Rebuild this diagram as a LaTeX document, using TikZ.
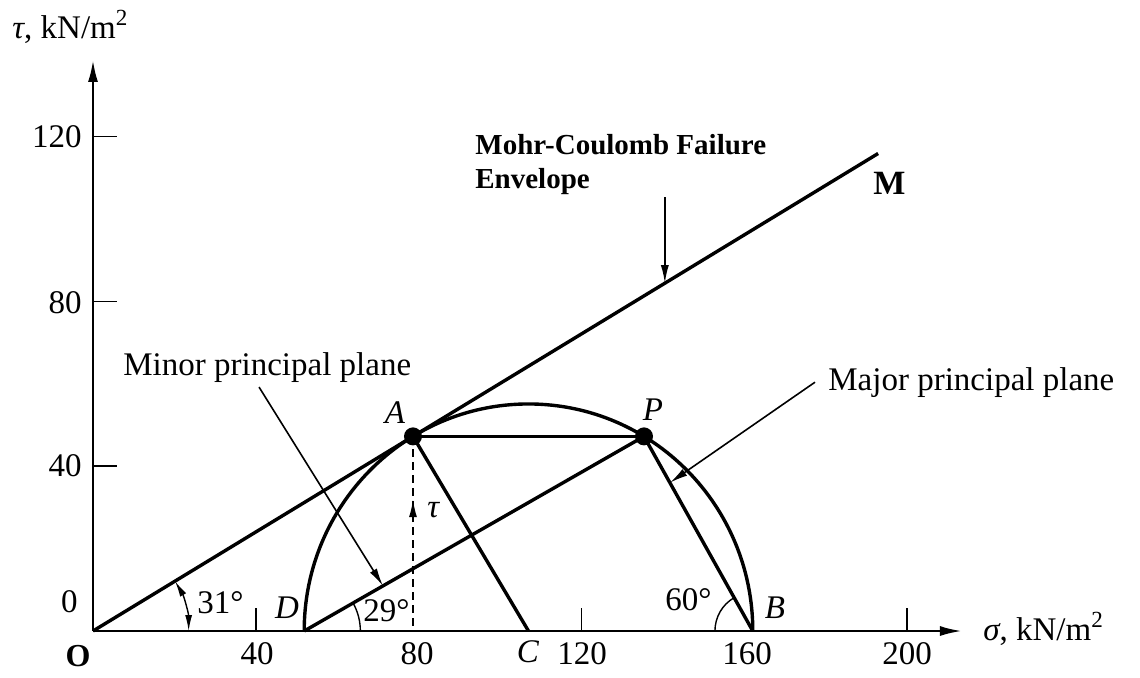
\documentclass[tikz,border=0pt]{standalone}
\usepackage{fontspec}
\setmainfont{Liberation Serif}
\usetikzlibrary{arrows.meta,calc}
\begin{document}
\begin{tikzpicture}[x=0.5pt,y=-0.5pt,
  txt/.style={inner sep=0pt, font=\fontsize{16.5}{18}\selectfont},
  btxt/.style={inner sep=0pt, font=\fontsize{14.5}{17}\selectfont\bfseries},
  mainline/.style={line width=1.7pt},
  axisline/.style={line width=1.2pt, -{Latex[length=11pt,width=5pt]}},
  leader/.style={line width=0.8pt, -{Latex[length=9pt,width=4pt]}},
  tickmark/.style={line width=0.8pt},
  anglearc/.style={line width=0.7pt},
  dot/.style={circle, fill=black, inner sep=0pt, minimum size=9pt}]
\useasboundingbox (0,0) rectangle (1140,677);
\begin{scope}[shift={(46.5pt,-315.5pt)}, x=2.035pt, y=2.06pt]
  % key points (data coordinates, kN/m^2)
  \coordinate (O) at (0,0);
  \coordinate (Ytop) at (0,138.6);
  \coordinate (Xend) at (213.5,0);
  \coordinate (C) at (107,0);
  \coordinate (D) at (51.89,0);
  \coordinate (B) at (162.11,0);
  \coordinate (A) at (78.62,47.24);
  \coordinate (P) at (135.38,47.24);
  \coordinate (M) at (192.9,115.9);
  \coordinate (Afoot) at (78.62,0);
  \coordinate (envS) at (140.5,105.3);
  \coordinate (envT) at (140.5,84.43);
  \coordinate (minS) at (40.8,59.2);
  \coordinate (minT) at (71.25,10.95);
  \coordinate (majS) at (177.4,60.4);
  \coordinate (majT) at (141.74,36.0);
  \coordinate (tauS) at (78.62,26.4);
  \coordinate (tauT) at (78.62,32.0);
  % axes
  \draw[axisline] (O) -- (Ytop);
  \draw[axisline] (O) -- (Xend);
  % ticks
  \foreach \v in {40,80,120} \draw[tickmark] (0,\v) -- (5.9,\v);
  \foreach \v in {40,120,200} \draw[tickmark] (\v,0) -- (\v,5.6);
  % failure envelope
  \draw[mainline] (O) -- (M);
  % Mohr circle
  \draw[mainline] (B) arc[start angle=0,end angle=180,radius=55.11];
  % construction lines
  \draw[mainline] (A) -- (P);
  \draw[mainline] (A) -- (C);
  \draw[mainline] (P) -- (B);
  \draw[mainline] (D) -- (P);
  \draw[line width=1pt, dash pattern=on 4pt off 2.5pt] (A) -- (Afoot);
  \draw[line width=0.9pt, -{Latex[length=9pt,width=4pt]}] (tauS) -- (tauT);
  % angle arcs
  \draw[anglearc, {Latex[length=8pt,width=3.5pt]}-{Latex[length=8pt,width=3.5pt]}]
    (23.5,0) arc[start angle=0,end angle=31,radius=23.5];
  \draw[anglearc] ($(D)+(13.8,0)$) arc[start angle=0,end angle=29.5,radius=13.8];
  \draw[anglearc] ($(B)+(-9.3,0)$) arc[start angle=180,end angle=119.5,radius=9.3];
  % leaders
  \draw[leader] (envS) -- (envT);
  \draw[leader] (minS) -- (minT);
  \draw[leader] (majS) -- (majT);
  % points
  \node[dot] (Adot) at (A) {};
  \node[dot] (Pdot) at (P) {};
\end{scope}
% axis labels
\node[txt, anchor=base west] (ylab) at (12,38) {\textit{τ}, kN/m\textsuperscript{2}};
\node[txt, anchor=base west] (xlab) at (983,640) {\textit{σ}, kN/m\textsuperscript{2}};
% y tick labels
\node[txt, anchor=east] (y120) at (82,137) {120};
\node[txt, anchor=east] (y80) at (82,303) {80};
\node[txt, anchor=east] (y40) at (82,466) {40};
\node[txt, anchor=east] (y0) at (78,602) {0};
% x tick labels
\node[txt] (x40) at (257,654) {40};
\node[txt] (x80) at (417,654) {80};
\node[txt] (x120) at (582,654) {120};
\node[txt] (x160) at (747,654) {160};
\node[txt] (x200) at (907,654) {200};
% point labels
\node[btxt, font=\fontsize{16}{18}\selectfont\bfseries] (Olab) at (78,656) {O};
\node[txt] (Clab) at (528,652) {\textit{C}};
\node[txt] (Alab) at (395,413) {\textit{A}};
\node[txt] (Plab) at (653,410) {\textit{P}};
\node[txt] (Dlab) at (287,608) {\textit{D}};
\node[txt] (Blab) at (775,608) {\textit{B}};
\node[txt, anchor=base west] (taulab) at (427,517) {\textit{τ}};
% angle labels
\node[txt, anchor=base west] (a31) at (197,613) {31°};
\node[txt, anchor=base west] (a29) at (363,621) {29°};
\node[txt, anchor=base west] (a60) at (665,610) {60°};
% annotations
\node[txt, anchor=base west] (minor) at (123,375) {Minor principal plane};
\node[txt, anchor=base west] (major) at (828,390) {Major principal plane};
\node[btxt, anchor=north west, align=left] (mc) at (475,134) {Mohr-Coulomb Failure\\Envelope};
\node[btxt, font=\fontsize{17}{18}\selectfont\bfseries, anchor=base west] (Mlab) at (873,194) {M};
\end{tikzpicture}
\end{document}
